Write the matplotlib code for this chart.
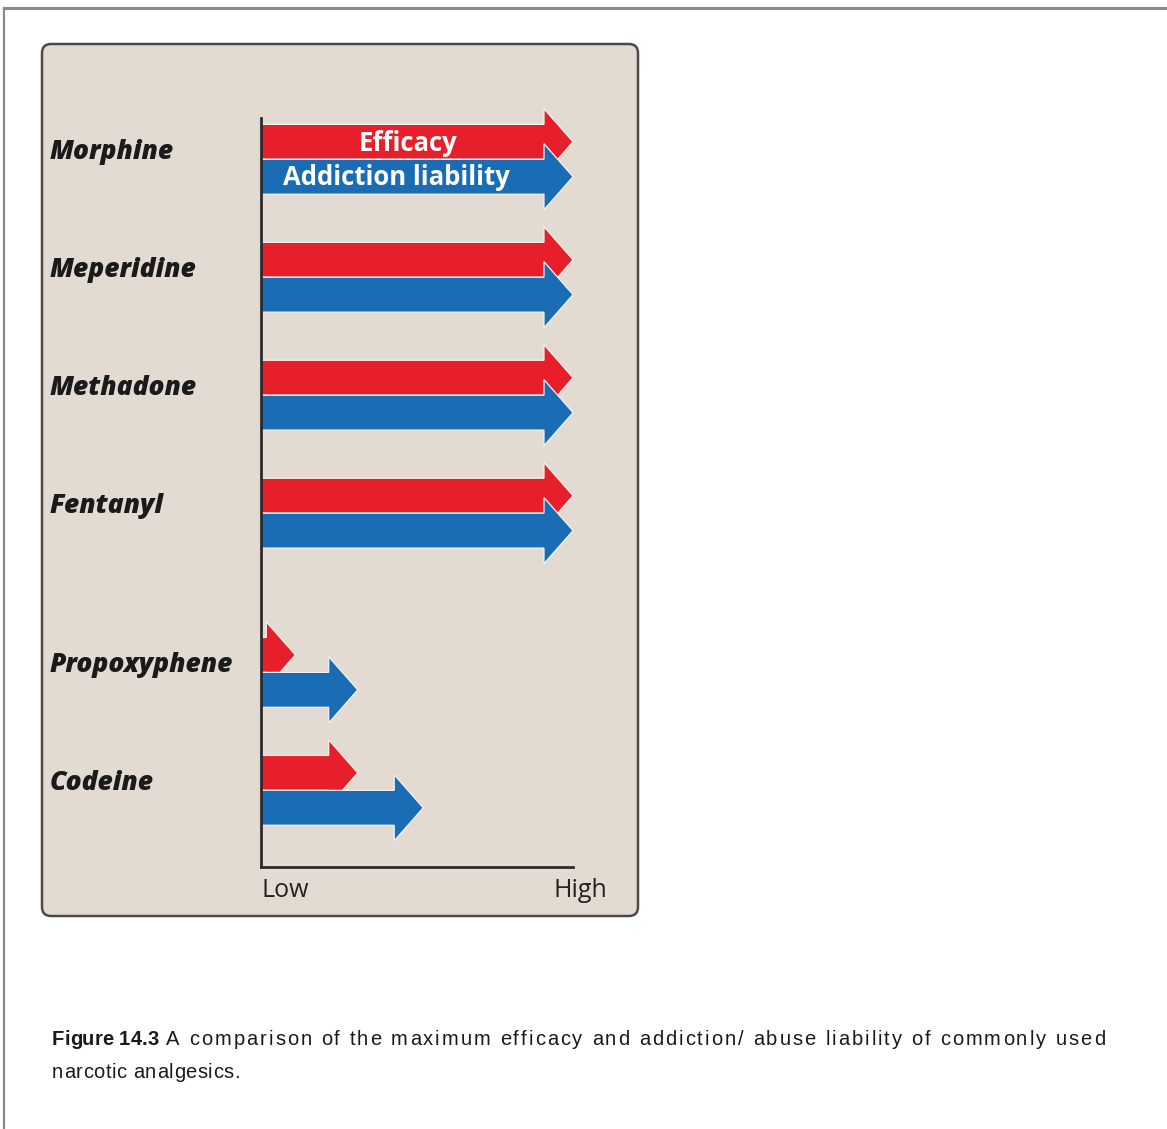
import matplotlib.pyplot as plt
import matplotlib.transforms as mtransforms
from matplotlib.patches import Polygon, FancyBboxPatch
from matplotlib.lines import Line2D
from matplotlib.font_manager import FontProperties, findfont, get_font, fontManager

# values (0 = Low, 1 = High)
drugs = ['Morphine', 'Meperidine', 'Methadone', 'Fentanyl', 'Propoxyphene', 'Codeine']
efficacy = [1.0, 1.0, 1.0, 1.0, 0.11, 0.31]
addiction = [1.0, 1.0, 1.0, 1.0, 0.31, 0.52]
series_names = ['Efficacy', 'Addiction liability']
scale_labels = ['Low', 'High']
caption_bold = 'Figure 14.3'
caption_line1 = 'A comparison of the maximum efficacy and addiction/ abuse liability of commonly used'
caption_line2 = 'narcotic analgesics.'

RED = '#e61f2a'
BLUE = '#1a6cb4'
PANEL = '#e3dbd2'

W, H = 1167, 1129
fig = plt.figure(figsize=(W / 100, H / 100), dpi=100)
fig.patch.set_facecolor('white')

# page frame (top and left rules)
fig.add_artist(Line2D([4 / W, 1], [1 - 8 / H, 1 - 8 / H], color='#8a8a8a', lw=2.2))
fig.add_artist(Line2D([4 / W, 4 / W], [0, 1 - 8 / H], color='#8a8a8a', lw=1.6))

# beige panel, kept behind the axes
panel = FancyBboxPatch((42, H - 916), 596, 872, boxstyle='round,pad=0,rounding_size=9',
                       transform=mtransforms.IdentityTransform(),
                       fc=PANEL, ec='#4a4a4a', lw=1.8, zorder=-5)
fig.add_artist(panel)

ax = fig.add_axes([261 / W, 1 - 867 / H, 312 / W, (867 - 118) / H])
ax.set_facecolor('none')
ax.set_xlim(0, 1)
ax.set_ylim(6.0, -0.35)
for s in ['top', 'right']:
    ax.spines[s].set_visible(False)
for s in ['left', 'bottom']:
    ax.spines[s].set_color('#2b2b2b')
    ax.spines[s].set_linewidth(2)
    ax.spines[s].set_zorder(5)
ax.set_xticks([])
ax.set_yticks([])

ypos = [i + (0.35 if i >= 4 else 0) for i in range(len(drugs))]

body_h, head_h, head_len = 0.148, 0.28, 0.093


def arrow(y, length, color):
    base = length - head_len
    pts = [(0, y - body_h), (base, y - body_h), (base, y - head_h), (length, y),
           (base, y + head_h), (base, y + body_h), (0, y + body_h)]
    ax.add_patch(Polygon(pts, closed=True, fc=color, ec='#f6f2ee', lw=0.9,
                         joinstyle='miter', clip_on=False, zorder=2))


for y, e, a in zip(ypos, efficacy, addiction):
    arrow(y - body_h, e, RED)
    arrow(y + body_h, a, BLUE)

ax.text(0.47, ypos[0] - body_h + 0.01, series_names[0], color='white', fontsize=18.5,
        fontweight='bold', family='Open Sans', ha='center', va='center', zorder=6)
ax.text(0.433, ypos[0] + body_h + 0.01, series_names[1], color='white', fontsize=18.5,
        fontweight='bold', family='Open Sans', ha='center', va='center', zorder=6)

lab_tr = mtransforms.blended_transform_factory(fig.transFigure, ax.transData)
for y, name in zip(ypos, drugs):
    ax.text(50 / W, y, name, transform=lab_tr, fontsize=19, fontweight='heavy',
            fontstyle='italic', family='Open Sans', color='#1a1a1a',
            ha='left', va='baseline')

ax.text(0.0, -30 / 749, scale_labels[0], transform=ax.transAxes, fontsize=18,
        family='Open Sans', color='#222222', ha='left', va='baseline')
ax.text(1.109, -30 / 749, scale_labels[1], transform=ax.transAxes, fontsize=18,
        family='Open Sans', color='#222222', ha='right', va='baseline')

# caption: narrow face if there is one, drawn letter by letter for the loose tracking
names = {f.name for f in fontManager.ttflist}
if 'Liberation Sans Narrow' in names:
    CAP_FONT, CAP_SIZE = 'Liberation Sans Narrow', 16
else:
    CAP_FONT, CAP_SIZE = 'Liberation Sans', 14.5


def advances(s, weight):
    prop = FontProperties(family=CAP_FONT, weight=weight, size=CAP_SIZE)
    font = get_font(findfont(prop))
    font.set_size(CAP_SIZE, 100)
    return [font.load_char(ord(c)).linearHoriAdvance / 65536 for c in s]


def tracked(x0, x1, ybase, s, weight='normal'):
    adv = advances(s, weight)
    extra = 0 if x1 is None else (x1 - x0 - sum(adv)) / (len(s) - 1)
    x = x0
    for c, a in zip(s, adv):
        if c != ' ':
            fig.text(x / W, 1 - ybase / H, c, fontsize=CAP_SIZE, fontweight=weight,
                     family=CAP_FONT, color='#1a1a1a', va='baseline')
        x += a + extra
    return x


xb = tracked(52, None, 1045, caption_bold, weight='bold')
tracked(xb + 8, 1105, 1045, caption_line1)
tracked(52, 240, 1078, caption_line2)

fig.savefig('out.png', dpi=100, facecolor='white')
